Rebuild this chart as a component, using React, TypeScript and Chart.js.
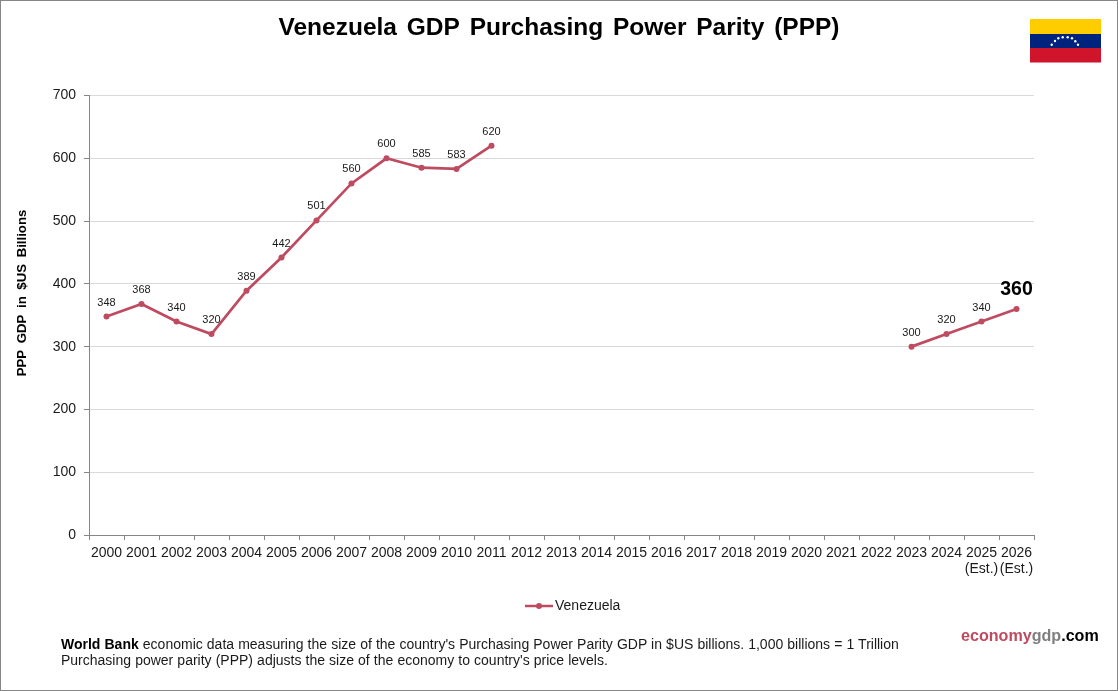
import React, { useEffect, useRef } from "react";
import { Chart, registerables, Plugin } from "chart.js";

Chart.register(...registerables);

const FONT = "'Liberation Sans', Arial, sans-serif";
const RED = "#BE4B60";

const years = [
  "2000", "2001", "2002", "2003", "2004", "2005", "2006", "2007", "2008", "2009",
  "2010", "2011", "2012", "2013", "2014", "2015", "2016", "2017", "2018", "2019",
  "2020", "2021", "2022", "2023", "2024", ["2025", "(Est.)"], ["2026", "(Est.)"],
];
const gdp = [
  348, 368, 340, 320, 389, 442, 501, 560, 600, 585, 583, 620,
  null, null, null, null, null, null, null, null, null, null, null,
  300, 320, 340, 360,
];
const flagStars = [
  [1051.7, 44.7], [1055, 41], [1058.3, 38.3], [1062.7, 37.3],
  [1067.7, 37.3], [1072, 38.3], [1075.3, 41.3], [1078, 44.7],
];

// title is centred on the whole canvas, not on the space left of the plot's right edge
const wideTitle: Plugin<"line"> = {
  id: "wideTitle",
  beforeDraw(chart) {
    (chart.ctx as any).wordSpacing = "3px";
    const block = (chart as any).titleBlock;
    block.left = 0;
    block.right = 1118;
  },
};

// axis title sits above the middle of the axis, so drawn by hand
const axisLabel: Plugin<"line"> = {
  id: "axisLabel",
  afterDraw(chart) {
    const { ctx } = chart;
    ctx.save();
    ctx.translate(22, 293);
    ctx.rotate(-Math.PI / 2);
    ctx.font = `bold 13.2px ${FONT}`;
    ctx.fillStyle = "#000";
    ctx.textAlign = "center";
    ctx.textBaseline = "middle";
    ctx.fillText("PPP GDP in $US Billions", 0, 0);
    ctx.restore();
  },
};

// value labels above the points, the last one is bigger
const pointLabels: Plugin<"line"> = {
  id: "pointLabels",
  afterDatasetsDraw(chart) {
    const { ctx } = chart;
    const pts = chart.getDatasetMeta(0).data;
    ctx.save();
    ctx.textAlign = "center";
    ctx.textBaseline = "middle";
    gdp.forEach((v, i) => {
      if (v === null) return;
      const last = i === gdp.length - 1;
      ctx.font = last ? `bold 19.5px ${FONT}` : `11px ${FONT}`;
      ctx.fillStyle = last ? "#000" : "#1a1a1a";
      ctx.fillText(String(v), pts[i].x, pts[i].y - (last ? 19 : 14));
    });
    ctx.restore();
  },
};

// legend sits a bit right of the canvas centre, so drawn by hand
const lineLegend: Plugin<"line"> = {
  id: "lineLegend",
  afterDraw(chart) {
    const { ctx } = chart;
    const y = 606;
    ctx.save();
    ctx.strokeStyle = RED;
    ctx.lineWidth = 2.5;
    ctx.beginPath();
    ctx.moveTo(525, y);
    ctx.lineTo(553, y);
    ctx.stroke();
    ctx.fillStyle = RED;
    ctx.beginPath();
    ctx.arc(539, y, 3, 0, Math.PI * 2);
    ctx.fill();
    ctx.font = `14px ${FONT}`;
    ctx.fillStyle = "#1a1a1a";
    ctx.textBaseline = "middle";
    ctx.fillText(String(chart.data.datasets[0].label), 555, y);
    ctx.restore();
  },
};

const App: React.FC = () => {
  const chartRef = useRef<HTMLCanvasElement | null>(null);

  useEffect(() => {
    document.body.style.margin = "0";
    const canvas = chartRef.current;
    if (!canvas) return;

    const chart = new Chart(canvas, {
      type: "line",
      data: {
        labels: years as any,
        datasets: [
          {
            label: "Venezuela",
            data: gdp,
            borderColor: RED,
            backgroundColor: RED,
            borderWidth: 2.7,
            pointRadius: 3,
            pointBackgroundColor: RED,
            pointBorderWidth: 0,
            tension: 0,
            spanGaps: false,
          },
        ],
      },
      options: {
        responsive: false,
        animation: false,
        devicePixelRatio: 1,
        layout: { padding: { left: 0, right: 84, top: 0, bottom: 0 } },
        scales: {
          x: {
            type: "category",
            offset: true,
            afterFit: (s) => {
              s.height = 156;
            },
            grid: {
              offset: true,
              drawOnChartArea: false,
              tickLength: 5,
              tickColor: "#868686",
              tickWidth: 1,
            },
            border: { color: "#868686", width: 1 },
            ticks: {
              autoSkip: false,
              maxRotation: 0,
              minRotation: 0,
              color: "#1a1a1a",
              padding: 5,
              font: { family: FONT, size: 14, lineHeight: 1.15 },
            },
          },
          y: {
            min: 0,
            max: 700,
            afterFit: (s) => {
              s.width = 89;
            },
            grid: {
              color: "#D9D9D9",
              tickColor: "#868686",
              tickLength: 5,
              lineWidth: 1,
            },
            border: { color: "#868686", width: 1 },
            ticks: {
              stepSize: 100,
              color: "#1a1a1a",
              padding: 8,
              font: { family: FONT, size: 14 },
            },
          },
        },
        plugins: {
          legend: { display: false },
          tooltip: { enabled: false },
          title: {
            display: true,
            text: "Venezuela GDP Purchasing Power Parity (PPP)",
            color: "#000",
            padding: { top: 14, bottom: 52.1 },
            font: { family: FONT, size: 24.5, weight: "bold", lineHeight: 1.2 },
          },
        },
      },
      plugins: [wideTitle, axisLabel, pointLabels, lineLegend],
    });

    return () => {
      chart.destroy();
    };
  }, []);

  return (
    <div style={{ position: "relative", width: 1118, height: 691, background: "#fff", fontFamily: FONT, overflow: "hidden" }}>
      <canvas ref={chartRef} width={1118} height={691} style={{ display: "block" }} />
      <div
        style={{
          position: "absolute",
          inset: 0,
          boxSizing: "border-box",
          border: "1px solid #868686",
          pointerEvents: "none",
        }}
      />
      <svg width={1118} height={691} style={{ position: "absolute", left: 0, top: 0 }}>
        <rect x={1030} y={19} width={71} height={15} fill="#FFCC00" />
        <rect x={1030} y={34} width={71} height={14} fill="#00247D" />
        <rect x={1030} y={48} width={71} height={14.5} fill="#CF142B" />
        {flagStars.map(([cx, cy], i) => (
          <circle key={i} cx={cx} cy={cy} r={1.2} fill="#fff" />
        ))}
      </svg>
      <div
        style={{
          position: "absolute",
          left: 61,
          top: 636,
          fontSize: 14,
          lineHeight: "16px",
          wordSpacing: 0.2,
          color: "#1a1a1a",
          whiteSpace: "nowrap",
        }}
      >
        <b style={{ color: "#000" }}>World Bank</b> economic data measuring the size of the country's Purchasing Power Parity GDP in $US billions. 1,000 billions = 1 Trillion
        <br />
        Purchasing power parity (PPP) adjusts the size of the economy to country's price levels.
      </div>
      <div
        style={{
          position: "absolute",
          left: 961,
          top: 626,
          fontSize: 16.1,
          fontWeight: "bold",
          whiteSpace: "nowrap",
        }}
      >
        <span style={{ color: RED }}>economy</span>
        <span style={{ color: "#7F7F7F" }}>gdp</span>
        <span style={{ color: "#000" }}>.com</span>
      </div>
    </div>
  );
};

export default App;
